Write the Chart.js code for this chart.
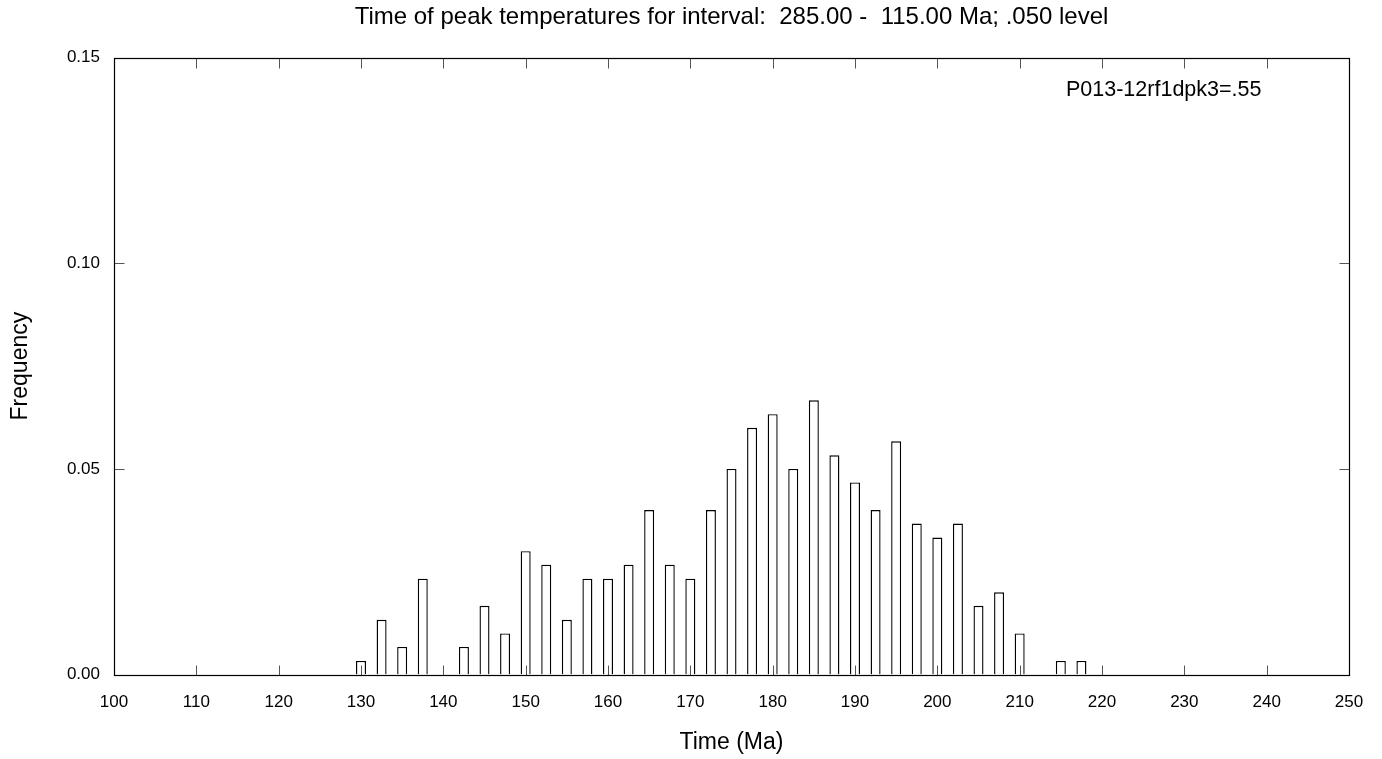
<!DOCTYPE html>
<html>
<head>
<meta charset="utf-8">
<script src="https://cdn.jsdelivr.net/npm/chart.js@4.4.1/dist/chart.umd.min.js"></script>
<style>
html,body{margin:0;padding:0;background:#fff;overflow:hidden}
#wrap{position:relative;width:1382px;height:759px}
</style>
</head>
<body>
<div id="wrap"><canvas id="c" width="1382" height="759"></canvas></div>
<script>
// ---- data ----
const binCenters = [130,132.5,135,137.5,140,142.5,145,147.5,150,152.5,155,157.5,160,162.5,165,167.5,170,172.5,175,177.5,180,182.5,185,187.5,190,192.5,195,197.5,200,202.5,205,207.5,210,212.5,215,217.5];
const frequencies = [0.0033,0.0133,0.0067,0.0233,0,0.0067,0.0167,0.0100,0.0300,0.0267,0.0133,0.0233,0.0233,0.0267,0.0400,0.0267,0.0233,0.0400,0.0500,0.0600,0.0633,0.0500,0.0667,0.0533,0.0467,0.0400,0.0567,0.0367,0.0333,0.0367,0.0167,0.0200,0.0100,0,0.0033,0.0033];
const xTickValues = [100,110,120,130,140,150,160,170,180,190,200,210,220,230,240,250];
const yTickValues = [0,0.05,0.10,0.15];
const chartTitle = 'Time of peak temperatures for interval:  285.00 -  115.00 Ma; .050 level';
const xAxisTitle = 'Time (Ma)';
const yAxisTitle = 'Frequency';
const annotationText = 'P013-12rf1dpk3=.55';

const FONT = '"Liberation Sans", Arial, Helvetica, sans-serif';
Chart.defaults.font.family = FONT;
Chart.defaults.color = '#000';

const framePlugin = {
  id: 'frame',
  afterDraw(chart) {
    const {ctx, chartArea: a, scales: {x, y}} = chart;
    ctx.save();
    const L = Math.round(a.left) + 0.5, R = Math.round(a.right) + 0.5;
    const T = Math.round(a.top) + 0.5, B = Math.round(a.bottom) + 0.5;
    const tl = 10;
    ctx.strokeStyle = '#555';
    ctx.lineWidth = 1;
    ctx.beginPath();
    xTickValues.slice(1, -1).forEach(v => {
      const px = Math.round(x.getPixelForValue(v)) + 0.5;
      ctx.moveTo(px, B); ctx.lineTo(px, B - tl);
      ctx.moveTo(px, T); ctx.lineTo(px, T + tl);
    });
    yTickValues.slice(1, -1).forEach(v => {
      const py = Math.round(y.getPixelForValue(v)) + 0.5;
      ctx.moveTo(L, py); ctx.lineTo(L + tl, py);
      ctx.moveTo(R, py); ctx.lineTo(R - tl, py);
    });
    ctx.stroke();
    ctx.strokeStyle = '#000';
    ctx.lineWidth = 1.2;
    ctx.strokeRect(L, T, R - L, B - T);
    ctx.font = '21.5px ' + FONT;
    ctx.fillStyle = '#000';
    ctx.textAlign = 'left';
    ctx.textBaseline = 'alphabetic';
    ctx.fillText(annotationText, a.right - 283, a.top + 38.5);
    ctx.restore();
  }
};

new Chart(document.getElementById('c'), {
  type: 'bar',
  data: {
    datasets: [{
      data: binCenters.map((c, i) => ({x: c, y: frequencies[i]})),
      backgroundColor: '#ffffff',
      borderColor: '#000000',
      borderWidth: 1.4,
      barPercentage: 0.486,
      categoryPercentage: 1
    }]
  },
  options: {
    responsive: false,
    animation: false,
    devicePixelRatio: 1,
    layout: {padding: {left: 0, right: 33, top: 0, bottom: 0}},
    plugins: {
      legend: {display: false},
      tooltip: {enabled: false},
      title: {
        display: true,
        fullSize: false,
        text: chartTitle,
        color: '#000',
        font: {size: 24, weight: 'normal', family: FONT},
        padding: {top: 3, bottom: 25.9}
      }
    },
    scales: {
      x: {
        type: 'linear',
        min: 100, max: 250,
        offset: false,
        grid: {display: false, drawTicks: false},
        border: {display: false},
        ticks: {stepSize: 10, autoSkip: false, maxRotation: 0, font: {size: 17}, color: '#000', padding: 18},
        title: {display: true, text: xAxisTitle, font: {size: 23}, color: '#000', padding: {top: 0, bottom: 3}},
        afterFit(s) { s.height = 84.5; }
      },
      y: {
        min: 0, max: 0.15,
        grid: {display: false, drawTicks: false},
        border: {display: false},
        ticks: {stepSize: 0.05, font: {size: 17}, color: '#000', padding: 14, callback: v => v.toFixed(2)},
        title: {display: true, text: yAxisTitle, font: {size: 23}, color: '#000', padding: {top: 7, bottom: 0}},
        afterFit(s) { s.width = 114; }
      }
    }
  },
  plugins: [framePlugin]
});
</script>
</body>
</html>
